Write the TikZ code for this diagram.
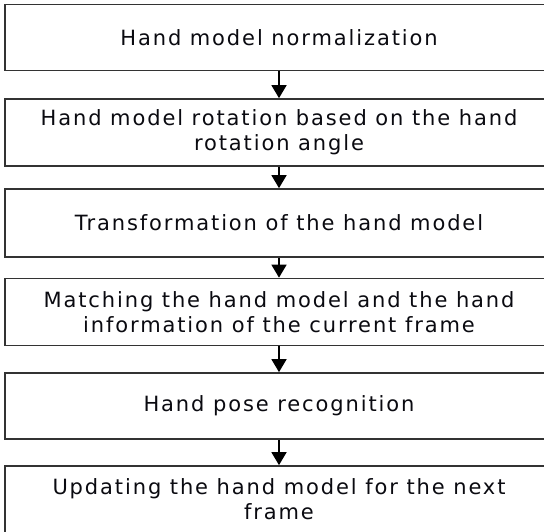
\documentclass[tikz,border=0pt]{standalone}
\usepackage{fontspec}
\setmainfont{DejaVu Sans}[LetterSpace=9]
\usetikzlibrary{arrows.meta}
\definecolor{boxgray}{HTML}{333333}
\definecolor{txt}{HTML}{0A0A10}
\tikzset{
  x=1pt, y=1pt,
  stepbox/.style={draw=boxgray, line width=1.7pt, minimum width=548pt, inner sep=0pt,
    align=center, text=txt, font=\fontsize{21}{25}\selectfont},
  flow/.style={draw=black, line width=1.6pt, -{Triangle[width=15pt,length=13pt]}}
}
\begin{document}
\begin{tikzpicture}
\useasboundingbox (0,0) rectangle (544,-532);
\clip (0,0) rectangle (544,-532);
\node[stepbox, minimum height=66pt] (n1) at (279,-37.5) {Hand model normalization};
\node[stepbox, minimum height=67pt] (n2) at (279,-132.5) {Hand model rotation based on the hand\\rotation angle};
\node[stepbox, minimum height=68pt] (n3) at (279,-223) {Transformation of the hand model};
\node[stepbox, minimum height=67pt] (n4) at (279,-312) {Matching the hand model and the hand\\information of the current frame};
\node[stepbox, minimum height=66pt] (n5) at (279,-406) {Hand pose recognition};
\node[stepbox, minimum height=67pt] (n6) at (279,-499.5) {Updating the hand model for the next\\frame};
\draw[flow] (n1.south) -- (n2.north);
\draw[flow] (n2.south) -- (n3.north);
\draw[flow] (n3.south) -- (n4.north);
\draw[flow] (n4.south) -- (n5.north);
\draw[flow] (n5.south) -- (n6.north);
\end{tikzpicture}
\end{document}
